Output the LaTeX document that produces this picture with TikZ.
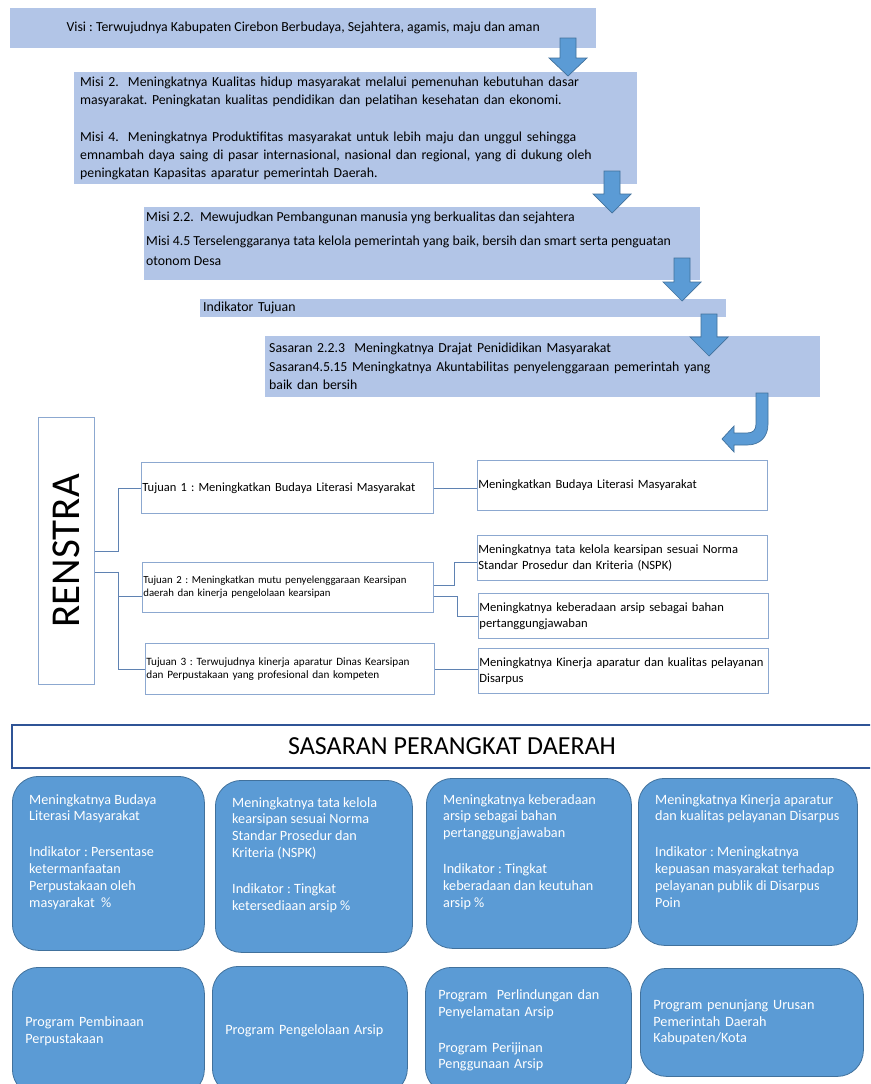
\documentclass[tikz,border=0pt]{standalone}
\usepackage{fontspec}
\setmainfont{Carlito}
\frenchspacing
\definecolor{lightbox}{RGB}{178,197,231}
\definecolor{arrowblue}{RGB}{91,155,213}
\definecolor{arrowedge}{RGB}{65,113,156}
\definecolor{framegray}{RGB}{140,168,208}
\definecolor{linegray}{RGB}{95,130,178}
\definecolor{darkframe}{RGB}{47,84,150}

\begin{document}
\begin{tikzpicture}[x=1pt,y=-1pt]
          \tikzstyle{band} = [fill=lightbox, inner sep=0pt, anchor=north west, font=\fontsize{13.8}{18}\selectfont]
          \tikzstyle{frame} = [draw=framegray, line width=0.8pt, anchor=north west, align=left, inner xsep=1pt, inner ysep=0pt]
          \tikzstyle{conn} = [draw=linegray, line width=0.8pt]
          \tikzstyle{pill} = [draw=arrowedge, fill=arrowblue, line width=0.8pt, rounded corners=26pt, anchor=north west, inner sep=0pt]
          \tikzstyle{pilltext} = [text=white, align=left, anchor=north west, inner sep=0pt, font=\fontsize{14.2}{16.8}\selectfont]
          \tikzstyle{blockarrow} = [draw=arrowedge, fill=arrowblue, line width=0.7pt]
        \useasboundingbox (0,0) rectangle (870,1084);
        \fill[white] (0,0) rectangle (870,1084);
        \clip (0,0) rectangle (870,1084);
        % upper chain
        \node[band, minimum width=586, minimum height=40] (visi) at (10,8) {Visi : Terwujudnya Kabupaten Cirebon Berbudaya, Sejahtera, agamis, maju dan aman};
        \node[band, minimum width=563, minimum height=112, text width=551, align=left] (misi) at (74,72) {Misi 2.~ Meningkatnya Kualitas hidup masyarakat melalui pemenuhan kebutuhan dasar\\ masyarakat. Peningkatan kualitas pendidikan dan pelatihan kesehatan dan ekonomi.\\[19pt] Misi 4.~ Meningkatnya Produktifitas masyarakat untuk lebih maju dan unggul sehingga\\ emnambah daya saing di pasar internasional, nasional dan regional, yang di dukung oleh\\ peningkatan Kapasitas aparatur pemerintah Daerah.};
        \node[band, minimum width=556, minimum height=73] (misisub) at (144,207) {};
        \node[anchor=north west, inner sep=0pt, align=left, font=\fontsize{13.8}{20}\selectfont] (misisubt) at ([shift={(2,5)}]misisub.north west) {Misi 2.2.~ Mewujudkan Pembangunan manusia yng berkualitas dan sejahtera\\[4pt] Misi 4.5 Terselenggaranya tata kelola pemerintah yang baik, bersih dan smart serta penguatan\\ otonom Desa};
        \node[band, minimum width=526, minimum height=18, text width=520, align=left] (indikator) at (200,299) {Indikator Tujuan};
        \node[band, minimum width=555, minimum height=61, text width=547, align=left, font=\fontsize{13.8}{18.5}\selectfont] (sasaran) at (265,336) {Sasaran 2.2.3~ Meningkatnya Drajat Penididikan Masyarakat\\ Sasaran4.5.15 Meningkatnya Akuntabilitas penyelenggaraan pemerintah yang\\ baik dan bersih};
        \foreach \x/\t/\b/\e in {568/38/58/76, 612/171/194/213, 682/258/282/301, 709/314/337/356}
          \draw[blockarrow] ({\x-8},\t) -- ({\x+8},\t) -- ({\x+8},\b) -- ({\x+19},\b) -- (\x,\e) -- ({\x-19},\b) -- ({\x-8},\b) -- cycle;
        \draw[blockarrow] (768,393) -- (768,424) .. controls (768,437) and (760,445) .. (747,445) -- (734,445) -- (734,452) -- (722,439) -- (734,426) -- (734,433) -- (747,433) .. controls (753,433) and (756,430) .. (756,424) -- (756,393) -- cycle;
        % renstra
        \node[frame, minimum width=56, minimum height=267, align=center, font=\fontsize{41}{41}\selectfont] (renstra) at (38,417) {\rotatebox{90}{RENSTRA}};
        \node[frame, minimum width=292, minimum height=51, text width=290, font=\fontsize{12.5}{14}\selectfont] (tj1) at (141,462) {Tujuan 1 : Meningkatkan Budaya Literasi Masyarakat};
        \node[frame, minimum width=291, minimum height=50, text width=289, font=\fontsize{10.8}{13}\selectfont] (tj2) at (142,562) {Tujuan 2 : Meningkatkan mutu penyelenggaraan Kearsipan\\ daerah dan kinerja pengelolaan kearsipan};
        \node[frame, minimum width=289, minimum height=51, text width=287, font=\fontsize{11.2}{13}\selectfont] (tj3) at (145,643) {Tujuan 3 : Terwujudnya kinerja aparatur Dinas Kearsipan\\ dan Perpustakaan yang profesional dan kompeten};
        \node[frame, minimum width=290, minimum height=50, text width=288, font=\fontsize{12.6}{16}\selectfont] (r1) at (477,460) {Meningkatkan Budaya Literasi Masyarakat};
        \node[frame, minimum width=290, minimum height=45, text width=288, font=\fontsize{12.6}{16}\selectfont] (r2a) at (477,535) {Meningkatnya tata kelola kearsipan sesuai Norma\\ Standar Prosedur dan Kriteria (NSPK)};
        \node[frame, minimum width=290, minimum height=45, text width=288, font=\fontsize{12.6}{16}\selectfont] (r2b) at (478,593) {Meningkatnya keberadaan arsip sebagai bahan\\ pertanggungjawaban};
        \node[frame, minimum width=290, minimum height=45, text width=288, font=\fontsize{12.6}{16}\selectfont] (r3) at (478,648) {Meningkatnya Kinerja aparatur dan kualitas pelayanan\\ Disarpus};
        \draw[conn] (renstra.east) -- ++(24,0) |- (tj1.west);
        \draw[conn] ([yshift=-21pt]renstra.east) -- ++(24,0) |- (tj3.west);
        \draw[conn] ([xshift=24pt,yshift=-21pt]renstra.east) |- ([yshift=-9pt]tj2.west);
        \draw[conn] (tj1.east) -- (tj1.east -| r1.west);
        \draw[conn] ([yshift=2pt]tj2.east) -- ++(21,0) |- ([yshift=-4pt]r2a.west);
        \draw[conn] ([yshift=-9pt]tj2.east) -- ++(24,0) |- (r2b.west);
        \draw[conn] (tj3.east) -- (tj3.east -| r3.west);
        % sasaran perangkat daerah
        \node[draw=darkframe, line width=2pt, minimum width=880, minimum height=43, anchor=north west, inner sep=0pt, font=\fontsize{26}{28}\selectfont] (spd) at (11,724) {SASARAN PERANGKAT DAERAH};
        \node[pill, minimum width=192, minimum height=174] (b1) at (12,776) {};
        \node[pill, minimum width=197, minimum height=172] (b2) at (215,780) {};
        \node[pill, minimum width=205, minimum height=170] (b3) at (426,778) {};
        \node[pill, minimum width=219, minimum height=167] (b4) at (638,778) {};
        \node[pilltext] (b1t) at ([shift={(17,18)}]b1.north west) {Meningkatnya Budaya\\ Literasi Masyarakat\\[19pt] Indikator : Persentase\\ ketermanfaatan\\ Perpustakaan oleh\\ masyarakat~ \%};
        \node[pilltext] (b2t) at ([shift={(17,17)}]b2.north west) {Meningkatnya tata kelola\\ kearsipan sesuai Norma\\ Standar Prosedur dan\\ Kriteria (NSPK)\\[19pt] Indikator : Tingkat\\ ketersediaan arsip \%};
        \node[pilltext] (b3t) at ([shift={(17,16)}]b3.north west) {Meningkatnya keberadaan\\ arsip sebagai bahan\\ pertanggungjawaban\\[19pt] Indikator : Tingkat\\ keberadaan dan keutuhan\\ arsip \%};
        \node[pilltext] (b4t) at ([shift={(17,16)}]b4.north west) {Meningkatnya Kinerja aparatur\\ dan kualitas pelayanan Disarpus\\[19pt] Indikator : Meningkatnya\\ kepuasan masyarakat terhadap\\ pelayanan publik di Disarpus\\ Poin};
        \node[pill, pilltext, anchor=north west, minimum width=192, minimum height=128, text width=166] (c1) at (12,967) {Program Pembinaan\\ Perpustakaan};
        \node[pill, pilltext, anchor=north west, minimum width=195, minimum height=128, text width=169] (c2) at (212,966) {Program Pengelolaan Arsip};
        \node[pill, pilltext, anchor=north west, minimum width=206, minimum height=126, text width=180] (c3) at (425,967) {Program~ Perlindungan dan\\ Penyelamatan Arsip\\[19pt] Program Perijinan\\ Penggunaan Arsip};
        \node[pill, pilltext, anchor=north west, minimum width=223, minimum height=108, text width=197] (c4) at (640,968) {Program penunjang Urusan\\ Pemerintah Daerah\\ Kabupaten/Kota};
      \end{tikzpicture}
\end{document}
